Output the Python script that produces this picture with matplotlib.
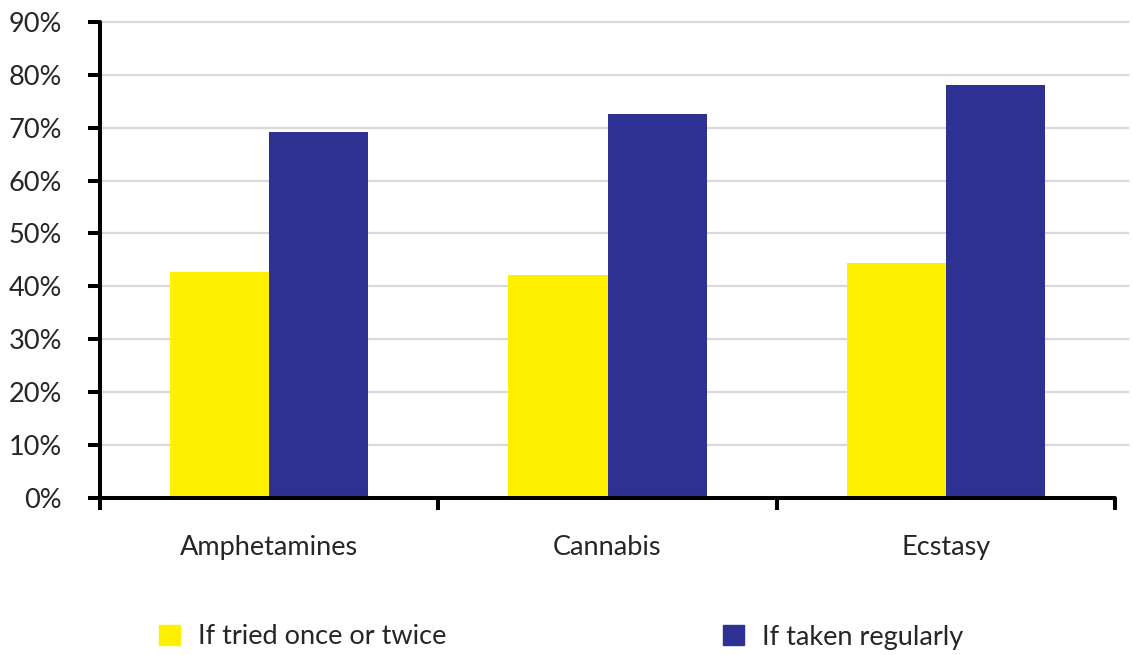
import numpy as np
import matplotlib
matplotlib.use("Agg")
import matplotlib.pyplot as plt
from matplotlib.patches import Patch
from matplotlib.ticker import FixedLocator

# data
categories = ["Amphetamines", "Cannabis", "Ecstasy"]
tried_once = [42.7, 42.2, 44.4]
taken_regularly = [69.1, 72.5, 78.0]
series_labels = ["If tried once or twice", "If taken regularly"]

YELLOW = "#FFF000"
BLUE = "#2E3192"
TEXT = "#262626"

plt.rcParams["font.family"] = ["Lato", "DejaVu Sans"]
plt.rcParams["font.size"] = 19.5

fig = plt.figure(figsize=(11.33, 6.55), dpi=100)
ax = fig.add_axes([100 / 1133, 1 - 497.7 / 655, 1015 / 1133, (497.7 - 22) / 655])

x = np.arange(len(categories))
w = 0.293
ax.bar(x - w / 2, tried_once, width=w, color=YELLOW, zorder=2)
ax.bar(x + w / 2, taken_regularly, width=w, color=BLUE, zorder=2)

ax.set_xlim(-0.5, len(categories) - 0.5)
ax.set_ylim(0, 90)

# gridlines (run a little past the last tick, like the original)
ax.set_yticks(np.arange(0, 91, 10))
ax.set_yticklabels([f"{v}%" for v in range(0, 91, 10)], color=TEXT)
for v in range(10, 91, 10):
    ax.axhline(v, xmin=0, xmax=1.013, color="#d9d9d9", lw=1.6, zorder=1, clip_on=False)

for s in ["top", "right"]:
    ax.spines[s].set_visible(False)
for s in ["left", "bottom"]:
    ax.spines[s].set_linewidth(2.9)
    ax.spines[s].set_color("black")
    ax.spines[s].set_capstyle("round")

ax.tick_params(axis="y", length=8.5, width=2.9, pad=19, color="black")
ax.set_xticks(x)
ax.set_xticklabels(categories, color=TEXT)
ax.tick_params(axis="x", which="major", length=0, pad=27)
ax.xaxis.set_minor_locator(FixedLocator(np.arange(-0.5, len(categories), 1.0)))
ax.tick_params(axis="x", which="minor", length=8.5, width=2.9, color="black")

handles = [Patch(color=YELLOW), Patch(color=BLUE)]
leg = fig.legend(handles, series_labels, ncol=2, frameon=False,
                 loc="center left", bbox_to_anchor=(159 / 1133, 1 - 637 / 655),
                 borderpad=0, borderaxespad=0,
                 handlelength=0.78, handleheight=0.78, handletextpad=0.66,
                 columnspacing=10.2)
for t in leg.get_texts():
    t.set_color(TEXT)

fig.savefig("out.png", dpi=100)
